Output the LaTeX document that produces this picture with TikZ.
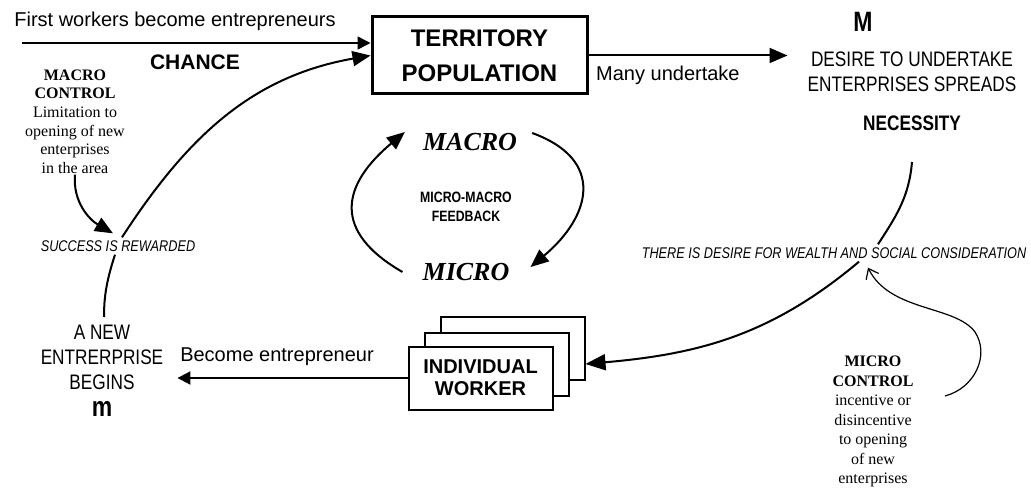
\documentclass[tikz,border=0pt]{standalone}
\usepackage{fontspec}
\setmainfont{Liberation Sans}
\newfontfamily\narrowfont[FakeStretch=0.82]{Liberation Sans}
\newfontfamily\timesfont{Liberation Serif}
\usetikzlibrary{arrows.meta,positioning}

\begin{document}
\begin{tikzpicture}[x=1pt,y=1pt,
  every node/.style={inner sep=1pt, align=center},
  plain/.style={font=\fontsize{20}{24}\selectfont},
  narrow/.style={font=\narrowfont\fontsize{21}{25}\selectfont},
  level/.style={font=\timesfont\bfseries\itshape\fontsize{26}{30}\selectfont},
  note/.style={font=\narrowfont\itshape\fontsize{15.5}{18}\selectfont, inner sep=3pt},
  card/.style={draw, line width=2pt, fill=white, minimum width=144pt, minimum height=63pt},
  flow/.style={line width=2pt, -{Triangle[length=18pt,width=15pt]}},
  feed/.style={line width=1.5pt, -{Triangle[length=13pt,width=13pt]}}]

  \useasboundingbox (0,0) rectangle (1031,-489);

  \node [draw, line width=3pt, minimum width=215pt, minimum height=77pt,
         font=\bfseries\fontsize{24}{35}\selectfont] (terr) at (479.5,-55.5) {TERRITORY\\POPULATION};
  \node [plain] (first) at (175,-21) {First workers become entrepreneurs};
  \coordinate (firststart) at (22,-43);
  \node [font=\bfseries\fontsize{21}{25}\selectfont] (chance) at (195,-62) {CHANCE};
  \node [plain, anchor=west] (many) at (595,-75) {Many undertake};

  \node [font=\narrowfont\bfseries\fontsize{28}{30}\selectfont] (bigM) at (863,-22) {M};
  \node [narrow] (desire) at (912,-72) {DESIRE TO UNDERTAKE\\ENTERPRISES SPREADS};
  \node [font=\narrowfont\bfseries\fontsize{21}{25}\selectfont] (necessity) at (912,-123) {NECESSITY};
  \coordinate (necbottom) at (912,-162);
  \node [note] (wealth) at (834,-253) {THERE IS DESIRE FOR WEALTH AND SOCIAL CONSIDERATION};

  % micro-macro loop
  \node [level] (macro) at (470,-142) {MACRO};
  \node [level] (micro) at (466,-272) {MICRO};
  \node [font=\narrowfont\bfseries\fontsize{15}{19}\selectfont] (feedback) at (466,-207) {MICRO-MACRO\\FEEDBACK};

  \node [font=\timesfont\fontsize{16}{18.6}\selectfont] (macroctrl) at (75,-121.5)
        {\textbf{MACRO}\\\textbf{CONTROL}\\Limitation to\\opening of new\\enterprises\\in the area};
  \node [note] (success) at (118,-246) {SUCCESS IS REWARDED};
  \node [narrow, anchor=north] (newent) at (102,-324)
        {A NEW\\ENTRERPRISE\\BEGINS\\[2pt]{\bfseries\fontsize{28}{25}\selectfont m}};
  \node [plain] (become) at (277,-357) {Become entrepreneur};

  % stacked workers
  \node [card] (worker3) at (512.5,-348) {};
  \node [card] (worker2) at ([shift={(-16,-16)}]worker3.center) {};
  \node [card, font=\bfseries\fontsize{20}{22}\selectfont] (worker) at ([shift={(-16,-14)}]worker2.center) {INDIVIDUAL\\WORKER};

  \node [font=\timesfont\fontsize{16}{19.5}\selectfont] (microctrl) at (873,-421.5)
        {\textbf{MICRO}\\\textbf{CONTROL}\\incentive or\\disincentive\\to opening\\of new\\enterprises};
  \coordinate (microstart) at (945,-396);
  \coordinate (mcturn) at (975,-332);

  \draw [feed] (firststart) -- (firststart -| terr.west);
  \draw [flow] (terr.east) -- ([xshift=-19pt]desire.west |- terr.east);
  \draw [line width=2pt, shorten <=7pt] ([xshift=2pt]newent.north) to[out=90, in=-108] ([xshift=-3pt]success.south);
  \draw [flow] ([xshift=4pt]success.north) to[out=57, in=190] (terr.west);
  \draw [flow] (macroctrl.south) to[out=-95, in=150] ([xshift=-5pt,yshift=4pt]success.north);
  \draw [flow] ([xshift=-19pt]micro.west) to[out=150, in=-140, looseness=1.5] ([shift={(-17,10)}]macro.west);
  \draw [flow] ([shift={(14,9)}]macro.east) to[out=-20, in=40, looseness=1.5] ([shift={(20,5)}]micro.east);
  \draw [line width=2pt] (necbottom) to[out=-95, in=57] ([xshift=44pt]wealth.north);
  \draw [line width=2pt, -{Triangle[length=20pt,width=16pt]}] ([xshift=25pt]wealth.south) to[out=-140, in=5] (worker3.east |- worker2.east);
  \draw [feed, line width=2pt, shorten >=13pt] (worker.west) -- (worker.west -| newent.east);
  \draw [line width=1.2pt, -{Straight Barb[length=9pt,width=14pt]}] (microstart)
        .. controls (975,-388) and (990,-355) .. (mcturn)
        .. controls (955,-305) and (890,-312) .. ([shift={(34,-6)}]wealth.south);
\end{tikzpicture}
\end{document}
